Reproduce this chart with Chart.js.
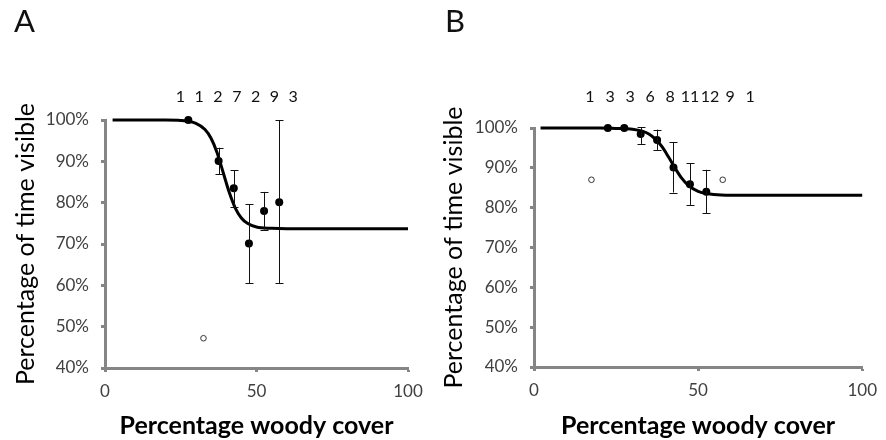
<!DOCTYPE html>
<html>
<head>
<meta charset="utf-8">
<script src="https://cdn.jsdelivr.net/npm/chart.js@4"></script>
<style>
    html, body { margin: 0; padding: 0; background: #fff; }
    #wrap { position: relative; width: 886px; height: 440px; }
    #wrapA { position: absolute; left: 0; top: 0; }
    #wrapB { position: absolute; left: 440px; top: 0; }
</style>
</head>
<body>
<div id="wrap">
    <div id="wrapA"><canvas id="chartA" width="443" height="440"></canvas></div>
    <div id="wrapB"><canvas id="chartB" width="446" height="440"></canvas></div>
</div>
<script>
// ---- Panel A data ----
const fitXA = [2.5, 20, 25, 30, 33, 35, 37, 39, 41, 43, 45, 47, 50, 55, 60, 70, 100];
const fitYA = [100, 100, 99.9, 99.2, 97.7, 95.6, 92.1, 87.3, 82.5, 78.7, 76.3, 75.0, 74.1, 73.8, 73.7, 73.7, 73.7];
const meanXA = [27.5, 37.5, 42.5, 47.5, 52.5, 57.5];
const meanYA = [100, 90.1, 83.5, 70.1, 78.0, 80.1];
const errLowA = [100, 86.9, 78.9, 60.5, 73.5, 60.5];
const errHighA = [100, 93.3, 87.9, 79.6, 82.6, 100];
const singleXA = [32.5];
const singleYA = [47.2];
const binXA = [27.5, 32.5, 37.5, 42.5, 47.5, 52.5, 57.5];
const countsA = [1, 1, 2, 7, 2, 9, 3];

// ---- Panel B data ----
const fitXB = [2, 20, 25, 30, 33, 35, 37, 39, 41, 43, 45, 47, 50, 53, 57, 65, 100];
const fitYB = [100, 100, 99.9, 99.7, 99.2, 98.5, 97.2, 95.3, 92.7, 89.9, 87.4, 85.6, 84.1, 83.5, 83.2, 83.1, 83.1];
const meanXB = [22.5, 27.5, 32.5, 37.5, 42.5, 47.5, 52.5];
const meanYB = [100, 100, 98.5, 97.0, 90.1, 85.9, 84.0];
const errLowB = [100, 100, 96.0, 94.5, 83.8, 80.7, 78.6];
const errHighB = [100, 100, 100.2, 99.6, 96.5, 91.2, 89.5];
const singleXB = [17.5, 57.5];
const singleYB = [87.0, 87.0];
const binXB = [17.5, 22.5, 27.5, 32.5, 37.5, 42.5, 47.5, 52.5, 57.5];
const countsB = [1, 3, 3, 6, 8, 11, 12, 9, 1];

// axis ticks
const xTicks = [0, 50, 100];
const yTicks = [40, 50, 60, 70, 80, 90, 100];

const AXIS_GREY = '#858585';
const TEXT_GREY = '#404040';
const FONT = 'Lato, "Open Sans", sans-serif';

function toPoints(xs, ys) {
    return xs.map((x, i) => ({ x: x, y: ys[i] }));
}

// draws error bars, sample counts above the plot and the panel letter
const extrasPlugin = {
    id: 'extras',
    afterDatasetsDraw: function (chart, args, opts) {
        const ctx = chart.ctx;
        const xs = chart.scales.x;
        const ys = chart.scales.y;

        // error bars
        ctx.save();
        ctx.strokeStyle = '#111';
        ctx.lineWidth = 1;
        opts.errX.forEach(function (x, i) {
            if (opts.errLow[i] === opts.errHigh[i]) return;
            const px = Math.round(xs.getPixelForValue(x)) + 0.5;
            const lo = ys.getPixelForValue(opts.errLow[i]);
            const hi = ys.getPixelForValue(opts.errHigh[i]);
            ctx.beginPath();
            ctx.moveTo(px, lo);
            ctx.lineTo(px, hi);
            ctx.moveTo(px - 4, Math.round(lo) + 0.5);
            ctx.lineTo(px + 4, Math.round(lo) + 0.5);
            ctx.moveTo(px - 4, Math.round(hi) + 0.5);
            ctx.lineTo(px + 4, Math.round(hi) + 0.5);
            ctx.stroke();
        });
        ctx.restore();

        // sample counts row
        const pxs = opts.binX.map(x => xs.getPixelForValue(x));
        const mid = (pxs[0] + pxs[pxs.length - 1]) / 2;
        ctx.save();
        ctx.fillStyle = '#111';
        ctx.font = '16px ' + FONT;
        ctx.textAlign = 'center';
        ctx.textBaseline = 'middle';
        opts.counts.forEach(function (n, i) {
            const px = mid + opts.labelShift + (pxs[i] - mid) * opts.labelSpread;
            ctx.fillText(String(n), px, 97);
        });

        // panel letter
        ctx.font = '31px ' + FONT;
        ctx.textAlign = 'left';
        ctx.textBaseline = 'alphabetic';
        ctx.fillText(opts.letter, opts.letterX, 32);
        ctx.restore();
    }
};

function makeChart(canvasId, cfg) {
    const ctx = document.getElementById(canvasId).getContext('2d');
    return new Chart(ctx, {
        type: 'scatter',
        data: {
            datasets: [
                {
                    type: 'line',
                    data: toPoints(cfg.fitX, cfg.fitY),
                    borderColor: '#000',
                    borderWidth: 3,
                    pointRadius: 0,
                    cubicInterpolationMode: 'monotone',
                    fill: false,
                    order: 3
                },
                {
                    data: toPoints(cfg.meanX, cfg.meanY),
                    backgroundColor: '#000',
                    borderColor: '#000',
                    pointRadius: 4,
                    pointBorderWidth: 0,
                    order: 1
                },
                {
                    data: toPoints(cfg.singleX, cfg.singleY),
                    backgroundColor: '#fff',
                    borderColor: '#333',
                    pointRadius: 2.8,
                    pointBorderWidth: 1,
                    order: 2
                }
            ]
        },
        options: {
            responsive: false,
            animation: false,
            events: [],
            clip: false,
            layout: { padding: { top: cfg.top, right: cfg.right, left: 0, bottom: 0 } },
            plugins: {
                legend: { display: false },
                tooltip: { enabled: false },
                extras: {
                    errX: cfg.meanX,
                    errLow: cfg.errLow,
                    errHigh: cfg.errHigh,
                    binX: cfg.binX,
                    counts: cfg.counts,
                    labelSpread: cfg.labelSpread,
                    labelShift: cfg.labelShift,
                    letter: cfg.letter,
                    letterX: cfg.letterX
                }
            },
            scales: {
                x: {
                    type: 'linear',
                    min: 0,
                    max: 100,
                    afterBuildTicks: function (scale) {
                        scale.ticks = xTicks.map(v => ({ value: v }));
                    },
                    afterFit: function (scale) { scale.height = cfg.xAxisH; },
                    border: { display: true, color: AXIS_GREY, width: 3 },
                    grid: {
                        display: true,
                        drawOnChartArea: false,
                        drawTicks: true,
                        tickLength: 4,
                        tickWidth: 3,
                        tickColor: AXIS_GREY
                    },
                    ticks: {
                        color: TEXT_GREY,
                        font: { family: FONT, size: 17 },
                        padding: 9,
                        maxRotation: 0
                    },
                    title: {
                        display: true,
                        text: 'Percentage woody cover',
                        color: '#000',
                        font: { family: FONT, size: 25, weight: 'bold', lineHeight: 1 },
                        padding: { top: 0, bottom: 2 }
                    }
                },
                y: {
                    type: 'linear',
                    min: 40,
                    max: 100,
                    afterBuildTicks: function (scale) {
                        scale.ticks = yTicks.map(v => ({ value: v }));
                    },
                    afterFit: function (scale) { scale.width = cfg.yAxisW; },
                    border: { display: true, color: AXIS_GREY, width: 3 },
                    grid: {
                        display: true,
                        drawOnChartArea: false,
                        drawTicks: true,
                        tickLength: 4,
                        tickWidth: 3,
                        tickColor: AXIS_GREY
                    },
                    ticks: {
                        color: TEXT_GREY,
                        font: { family: FONT, size: 17 },
                        padding: 12,
                        callback: v => v + '%'
                    },
                    title: {
                        display: true,
                        text: 'Percentage of time visible',
                        color: '#000',
                        font: { family: FONT, size: 25, lineHeight: 1 },
                        padding: { top: cfg.yTitlePad, bottom: 0 }
                    }
                }
            }
        },
        plugins: [extrasPlugin]
    });
}

makeChart('chartA', {
    fitX: fitXA, fitY: fitYA,
    meanX: meanXA, meanY: meanYA, errLow: errLowA, errHigh: errHighA,
    singleX: singleXA, singleY: singleYA,
    binX: binXA, counts: countsA,
    labelSpread: 1.24, labelShift: 3,
    letter: 'A', letterX: 14,
    top: 120, right: 35, xAxisH: 72, yAxisW: 105, yTitlePad: 13
});

makeChart('chartB', {
    fitX: fitXB, fitY: fitYB,
    meanX: meanXB, meanY: meanYB, errLow: errLowB, errHigh: errHighB,
    singleX: singleXB, singleY: singleYB,
    binX: binXB, counts: countsB,
    labelSpread: 1.22, labelShift: 13,
    letter: 'B', letterX: 5,
    top: 128, right: 18, xAxisH: 73, yAxisW: 94, yTitlePad: 1
});
</script>
</body>
</html>
